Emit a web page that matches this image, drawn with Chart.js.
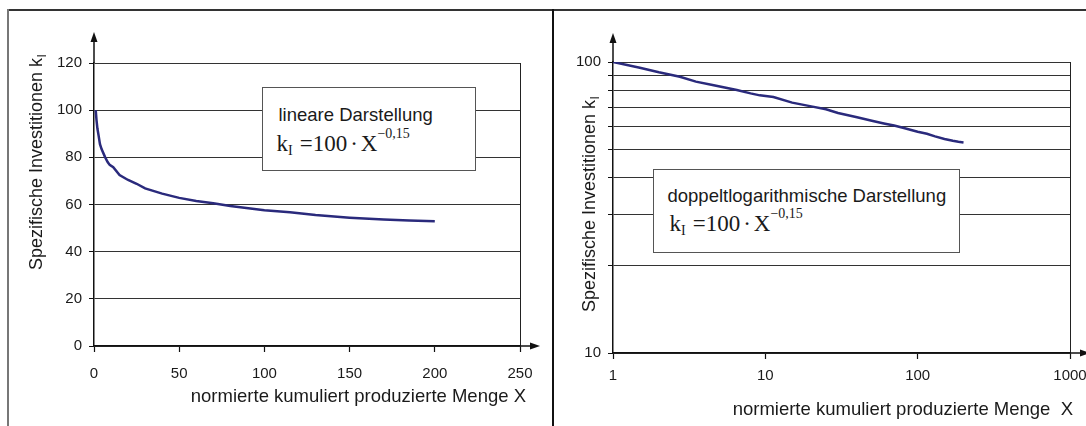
<!DOCTYPE html>
<html lang="de">
<head>
<meta charset="utf-8">
<title>Spezifische Investitionen – linear und doppeltlogarithmisch</title>
<script src="https://cdn.jsdelivr.net/npm/chart.js@4.4.1/dist/chart.umd.min.js"></script>
<style>
  html, body { margin: 0; padding: 0; background: #fff; }
  body { width: 1086px; height: 426px; overflow: hidden; position: relative;
         font-family: 'Liberation Sans', Arial, sans-serif; }
  canvas { position: absolute; top: 0; }
  #cLin { left: 0; }
  #cLog { left: 553px; }
  .rule { position: absolute; background: #333; }
  .box { position: absolute; background: #fff; border: 1.5px solid #555; box-sizing: border-box; }
  .box .cap { position: absolute; font: 18.5px/18.5px 'Liberation Sans', Arial, sans-serif;
              color: #1a1a1a; white-space: nowrap; }
  .box .eq { position: absolute; font: 23px/23px 'Liberation Serif', 'Times New Roman', serif;
             color: #1a1a1a; white-space: nowrap; }
  .eq sub, .eq sup { font-size: 14px; vertical-align: baseline; position: relative; line-height: 0; }
  .eq sub { top: 4px; }
  .eq sup { top: -13px; }
  .eq .sp { display: inline-block; }
</style>
</head>
<body>
<canvas id="cLin" width="553" height="426"></canvas>
<canvas id="cLog" width="560" height="426"></canvas>

<div class="rule" style="left:8px;top:9px;width:1078px;height:1.5px"></div>
<div class="rule" style="left:7px;top:9px;width:1.5px;height:417px;background:#777"></div>
<div class="rule" style="left:552px;top:9px;width:2px;height:417px;background:#111"></div>

<div class="box" style="left:262px;top:87px;width:214px;height:84px">
  <div class="cap" style="left:15.5px;top:17.8px">lineare Darstellung</div>
  <div class="eq" style="left:13.5px;top:43.8px">k<sub>I</sub><span class="sp" style="width:7px"></span>=100<span class="sp" style="width:3px"></span>·<span class="sp" style="width:3px"></span>X<sup>−0,15</sup></div>
</div>
<div class="box" style="left:653px;top:169px;width:307px;height:84px">
  <div class="cap" style="left:13.5px;top:16.8px">doppeltlogarithmische Darstellung</div>
  <div class="eq" style="left:15.5px;top:42.3px">k<sub>I</sub><span class="sp" style="width:7px"></span>=100<span class="sp" style="width:3px"></span>·<span class="sp" style="width:3px"></span>X<sup>−0,15</sup></div>
</div>

<script>
// Spezifische Investitionen k_I über der normierten kumuliert produzierten Menge X
const mengeX  = [1, 1.5, 2, 2.75, 3.5, 4.5, 6.5, 8, 9.2, 11.3, 15, 20, 25, 30, 40, 50,
                 60, 70, 80, 100, 115, 130, 150, 170, 185, 200];
const investK = [100, 95.6, 92.2, 89.0, 85.6, 83.4, 80.1, 78.0, 76.8, 75.8, 72.5, 70.4, 68.8,
                 66.8, 64.6, 62.8, 61.5, 60.5, 59.4, 57.6, 56.7, 55.5, 54.4, 53.6, 53.2, 52.9];

// Achsenteilungen
const linXTicks  = [0, 50, 100, 150, 200, 250];
const linYTicks  = [0, 20, 40, 60, 80, 100, 120];
const logXTicks  = [1, 10, 100, 1000];
const logYTicks  = [10, 20, 30, 40, 50, 60, 70, 80, 90, 100];
const logYLabels = [10, 100];

// Achsentitel
const xTitleLin = 'normierte kumuliert produzierte Menge X';
const xTitleLog = 'normierte kumuliert produzierte Menge  X';
const yTitle    = 'Spezifische Investitionen k';
const ySub      = 'I';

const FONT = "'Liberation Sans', Arial, sans-serif";
Chart.defaults.font.family = FONT;
Chart.defaults.color = '#1a1a1a';

const lineColor = '#2a2a7c';
const axisColor = '#111';
const gridColor = '#333';

// Rahmen rechts, Pfeilspitzen an den Achsen und Achsentitel
const axisDecor = {
  id: 'axisDecor',
  afterDraw(chart, args, o) {
    const { ctx, chartArea: a } = chart;
    ctx.save();
    ctx.strokeStyle = '#222';
    ctx.lineWidth = 1;
    ctx.beginPath();
    ctx.moveTo(a.right + 0.5, a.top);
    ctx.lineTo(a.right + 0.5, a.bottom);
    ctx.stroke();

    ctx.strokeStyle = axisColor;
    ctx.fillStyle = axisColor;
    ctx.lineWidth = 1.5;
    ctx.beginPath();
    ctx.moveTo(a.left, a.top);
    ctx.lineTo(a.left, o.yTip + 6);
    ctx.stroke();
    ctx.beginPath();
    ctx.moveTo(a.left, o.yTip);
    ctx.lineTo(a.left - 3.5, o.yTip + 10);
    ctx.lineTo(a.left + 3.5, o.yTip + 10);
    ctx.closePath();
    ctx.fill();

    const tx = a.right + o.xExt;
    ctx.beginPath();
    ctx.moveTo(a.right, a.bottom);
    ctx.lineTo(tx - 6, a.bottom);
    ctx.stroke();
    ctx.beginPath();
    ctx.moveTo(tx, a.bottom);
    ctx.lineTo(tx - 10, a.bottom - 3.5);
    ctx.lineTo(tx - 10, a.bottom + 3.5);
    ctx.closePath();
    ctx.fill();

    ctx.fillStyle = '#1a1a1a';
    ctx.font = '18.5px ' + FONT;
    ctx.textAlign = 'right';
    ctx.textBaseline = 'alphabetic';
    ctx.fillText(o.xTitle, a.right + o.xTitleDx, o.xTitleY);

    ctx.translate(o.yTitleX, o.yTitleY);
    ctx.rotate(-Math.PI / 2);
    ctx.textAlign = 'left';
    ctx.font = '18px ' + FONT;
    ctx.fillText(yTitle, 0, 0);
    const w = ctx.measureText(yTitle).width;
    ctx.font = '12px ' + FONT;
    ctx.fillText(ySub, w + 0.5, 4);
    ctx.restore();
  }
};

function points() {
  return mengeX.map((x, i) => ({ x: x, y: investK[i] }));
}

function dataset() {
  return {
    data: points(),
    borderColor: lineColor,
    borderWidth: 2.5,
    pointRadius: 0,
    tension: 0,
    fill: false
  };
}

function xAxis(type, min, max, ticks, height, pad) {
  return {
    type: type, min: min, max: max,
    afterBuildTicks: s => { s.ticks = ticks.map(v => ({ value: v })); },
    afterFit: s => { s.height = height; },
    grid: { drawOnChartArea: false, drawTicks: true, tickLength: 6, color: axisColor, tickWidth: 1.2 },
    border: { display: true, color: axisColor, width: 1.5 },
    ticks: { padding: pad, font: { size: 15 }, maxRotation: 0, autoSkip: false,
             callback: v => String(v) }
  };
}

function yAxis(type, min, max, ticks, width, labelled) {
  return {
    type: type, min: min, max: max,
    afterBuildTicks: s => { s.ticks = ticks.map(v => ({ value: v })); },
    afterFit: s => { s.width = width; },
    grid: { color: gridColor, lineWidth: 1, tickLength: 5, tickColor: axisColor },
    border: { display: true, color: axisColor, width: 1.5 },
    ticks: { padding: 7, font: { size: 15 }, autoSkip: false,
             callback: v => (labelled === null || labelled.includes(v)) ? String(v) : '' }
  };
}

new Chart(document.getElementById('cLin'), {
  type: 'line',
  data: { datasets: [dataset()] },
  options: {
    responsive: false, animation: false, devicePixelRatio: 1,
    layout: { padding: { left: 0, top: 63, right: 33, bottom: 0 }, autoPadding: false },
    plugins: {
      legend: { display: false }, tooltip: { enabled: false },
      axisDecor: { yTip: 32, xExt: 20, xTitle: xTitleLin, xTitleDx: 6, xTitleY: 402,
                   yTitleX: 42, yTitleY: 270 }
    },
    scales: {
      x: xAxis('linear', 0, 250, linXTicks, 80, 13),
      y: yAxis('linear', 0, 120, linYTicks, 94, null)
    }
  },
  plugins: [axisDecor]
});

new Chart(document.getElementById('cLog'), {
  type: 'line',
  data: { datasets: [dataset()] },
  options: {
    responsive: false, animation: false, devicePixelRatio: 1,
    layout: { padding: { left: 0, top: 62, right: 43, bottom: 0 }, autoPadding: false },
    plugins: {
      legend: { display: false }, tooltip: { enabled: false },
      axisDecor: { yTip: 33, xExt: 20, xTitle: xTitleLog, xTitleDx: 3, xTitleY: 415,
                   yTitleX: 41.5, yTitleY: 312 }
    },
    scales: {
      x: xAxis('logarithmic', 1, 1000, logXTicks, 73, 8),
      y: yAxis('logarithmic', 10, 100, logYTicks, 60, logYLabels)
    }
  },
  plugins: [axisDecor]
});
</script>
</body>
</html>
